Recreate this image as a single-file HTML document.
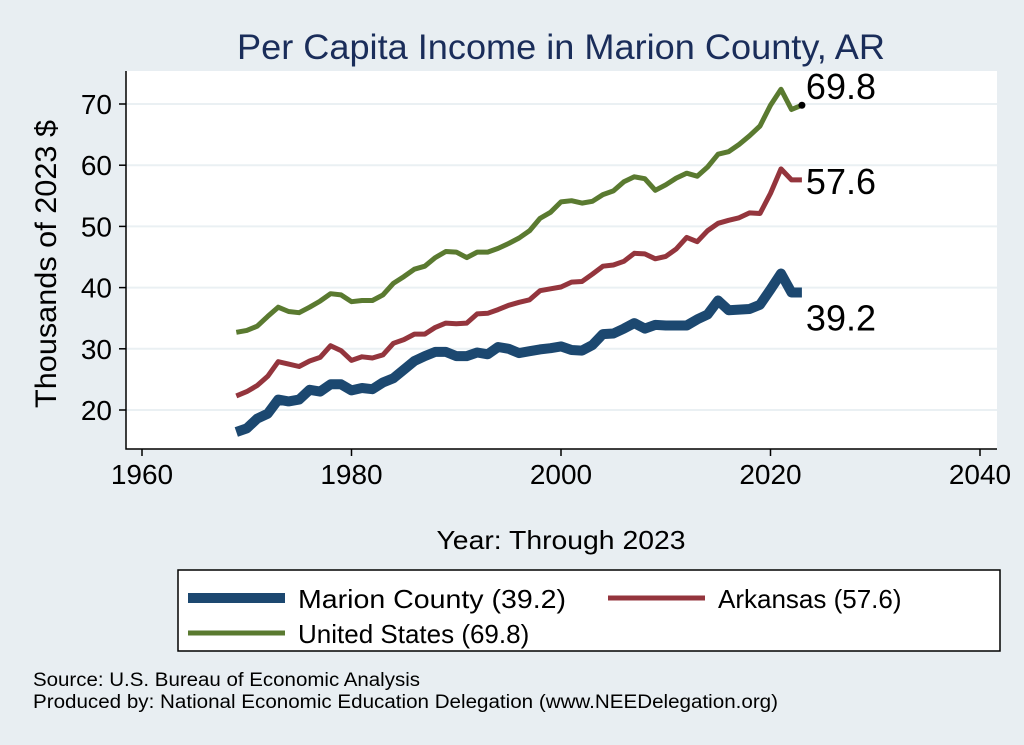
<!DOCTYPE html>
<html><head><meta charset="utf-8"><style>
body{margin:0;background:#e8eef2;font-family:"Liberation Sans",sans-serif}
svg{display:block}
</style></head><body>
<svg id="c" width="1024" height="745" xmlns="http://www.w3.org/2000/svg">
<rect x="0" y="0" width="1024" height="745" fill="#e8eef2"/>
<rect x="126" y="71" width="871" height="378" fill="#fff"/>
<text x="561" y="59" text-anchor="middle" font-size="35" textLength="648" lengthAdjust="spacingAndGlyphs" fill="#1a2d5a">Per Capita Income in Marion County, AR</text>
<g id="grid"></g><g id="lines"></g><g id="axes"></g>
<text transform="translate(56,264) rotate(-90)" text-anchor="middle" font-size="30" textLength="288" lengthAdjust="spacingAndGlyphs" fill="#000">Thousands of 2023 $</text>
<text x="561" y="549" text-anchor="middle" font-size="26" textLength="249" lengthAdjust="spacingAndGlyphs" fill="#000">Year: Through 2023</text>
<g>
<rect x="178" y="570" width="822" height="81" fill="#fff" stroke="#000" stroke-width="1.5"/>
<line x1="188" y1="598" x2="285" y2="598" stroke="#1c4870" stroke-width="10"/>
<text x="298" y="608" font-size="26" textLength="268" lengthAdjust="spacingAndGlyphs">Marion County (39.2)</text>
<line x1="608" y1="598" x2="705" y2="598" stroke="#94353d" stroke-width="5"/>
<text x="718" y="608" font-size="26">Arkansas (57.6)</text>
<line x1="188" y1="633" x2="285" y2="633" stroke="#5a7a30" stroke-width="5"/>
<text x="298" y="643" font-size="26">United States (69.8)</text>
</g>
<text x="33" y="686" font-size="19" textLength="387" lengthAdjust="spacingAndGlyphs">Source: U.S. Bureau of Economic Analysis</text>
<text x="33" y="708" font-size="19" textLength="745" lengthAdjust="spacingAndGlyphs">Produced by: National Economic Education Delegation (www.NEEDelegation.org)</text>
</svg>
<script>
const startYear = 1969;
const usVals = [32.7,33.0,33.7,35.3,36.8,36.1,35.9,36.8,37.8,39.0,38.8,37.7,37.9,37.9,38.8,40.7,41.8,43.0,43.5,44.9,45.9,45.8,44.9,45.8,45.8,46.4,47.2,48.1,49.3,51.3,52.3,54.0,54.2,53.8,54.1,55.2,55.8,57.3,58.1,57.8,55.9,56.8,57.9,58.7,58.2,59.7,61.8,62.2,63.4,64.8,66.4,69.8,72.4,69.1,69.8];
const arVals = [22.3,23.0,24.0,25.5,27.9,27.5,27.1,28.0,28.6,30.5,29.7,28.1,28.7,28.5,29.0,30.9,31.5,32.4,32.4,33.5,34.2,34.1,34.2,35.7,35.8,36.4,37.1,37.6,38.0,39.5,39.8,40.1,40.9,41.0,42.2,43.5,43.7,44.3,45.6,45.5,44.7,45.1,46.3,48.2,47.5,49.3,50.5,51.0,51.4,52.2,52.1,55.4,59.4,57.6,57.6];
const mcVals = [16.4,17.0,18.6,19.4,21.7,21.4,21.7,23.3,23.0,24.2,24.2,23.2,23.6,23.4,24.5,25.2,26.6,28.0,28.8,29.5,29.5,28.8,28.8,29.4,29.1,30.3,30.0,29.3,29.6,29.9,30.1,30.4,29.8,29.7,30.6,32.4,32.5,33.3,34.2,33.3,33.9,33.8,33.8,33.8,34.8,35.6,37.9,36.3,36.4,36.5,37.2,39.7,42.3,39.2,39.2];
const yTicks = [20,30,40,50,60,70];
const xTicks = [1960,1980,2000,2020,2040];
const NS="http://www.w3.org/2000/svg";
const X=v=>142+(v-1960)*(980-142)/80;
const Y=v=>410-(v-20)*(410-104)/50;
function mk(t,a,p){const e=document.createElementNS(NS,t);for(const k in a)e.setAttribute(k,a[k]);p.appendChild(e);return e;}
const grid=document.getElementById('grid'),axes=document.getElementById('axes'),lines=document.getElementById('lines');
yTicks.forEach(v=>{
 const g=mk('line',{x1:126,x2:997,y1:Y(v),y2:Y(v),stroke:'#eaf0f3','stroke-width':2},grid);
 
 
 const t=mk('line',{x1:119,x2:126,y1:Y(v),y2:Y(v),stroke:'#000','stroke-width':1.5},axes);
 
 
 const l=mk('text',{x:112,y:Y(v)+10,'text-anchor':'end','font-size':28},axes);l.textContent=v;
 
 
});
xTicks.forEach(v=>{
 const t=mk('line',{x1:X(v),x2:X(v),y1:449,y2:456,stroke:'#000','stroke-width':1.5},axes);
 
 
 const l=mk('text',{x:X(v),y:484,'text-anchor':'middle','font-size':28},axes);l.textContent=v;
 
 
});
const ax=mk('path',{d:'M126 71 V449 H997',fill:'none',stroke:'#000','stroke-width':1.5},axes);


function series(vals,color,w,name){
 const d=vals.map((v,i)=>(i?'L':'M')+X(startYear+i).toFixed(1)+' '+Y(v).toFixed(1)).join(' ');
 const p=mk('path',{d:d,fill:'none',stroke:color,'stroke-width':w,'stroke-linejoin':'round'},lines);
 
 
}
series(usVals,'#5a7a30',5,'us-line');
series(arVals,'#94353d',5,'arkansas-line');
series(mcVals,'#1c4870',10,'marion-line');
const n=usVals.length-1,lx=X(startYear+n);
const dot=mk('circle',{cx:lx,cy:Y(usVals[n]),r:3.5,fill:'#000'},lines);


[[usVals[n],-6,'us-end-label'],[arVals[n],14,'arkansas-end-label'],[mcVals[n],38,'marion-end-label']].forEach(([v,dy,nm])=>{
 const t=mk('text',{x:lx+4,y:Y(v)+dy,'font-size':36},lines);t.textContent=v.toFixed(1);
 
 
});
</script>
</body></html>
